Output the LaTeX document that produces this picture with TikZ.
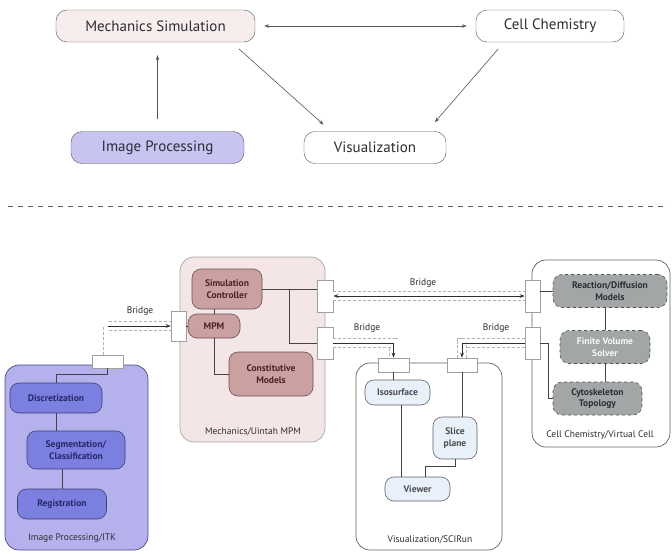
\documentclass[tikz,border=0pt]{standalone}
\usepackage{fontspec}
\setmainfont{PT Sans}
\usetikzlibrary{arrows.meta,positioning,calc}
\definecolor{ink}{RGB}{45,45,50}
\definecolor{rosy}{RGB}{247,237,237}
\definecolor{lilac}{RGB}{199,196,241}
\definecolor{itkbg}{RGB}{181,177,237}
\definecolor{itkblue}{RGB}{122,127,224}
\definecolor{itkink}{RGB}{40,40,105}
\definecolor{mechbg}{RGB}{244,230,230}
\definecolor{mauve}{RGB}{203,160,160}
\definecolor{mechink}{RGB}{75,35,35}
\definecolor{ice}{RGB}{232,240,249}
\definecolor{slate}{RGB}{163,166,166}
\tikzset{
  >={Stealth[length=5pt,width=3.6pt]},
  pill/.style={draw=ink!80,fill=#1,rounded corners=11pt,minimum height=32pt,
    inner sep=0pt,font=\fontsize{15}{17}\selectfont,text=ink},
  pill/.default=white,
  link/.style={draw=ink!80,line width=0.6pt},
  panel/.style={draw=#1,rounded corners=14pt,line width=0.7pt,inner sep=0pt},
  panel/.default=ink!75,
  unit/.style={draw=#1!50!black,fill=#1,rounded corners=9pt,align=center,
    inner sep=1pt,line width=0.6pt,font=\bfseries\fontsize{9.5}{11.5}\selectfont},
  unit/.default=ice,
  port/.style={draw=gray!75,fill=white,inner sep=0pt,line width=0.6pt},
  wire/.style={draw=ink!90,line width=0.7pt},
  pipe/.style={draw=gray!60,dash pattern=on 3pt off 2pt,double=white,
    double distance=8pt,line width=0.7pt},
  bridge/.style={draw=ink,line width=0.7pt},
  tag/.style={font=\fontsize{9.5}{11}\selectfont,text=ink},
}
\begin{document}
\begin{tikzpicture}[x=1pt,y=-1pt]
  \fill[white] (0,0) rectangle (672,554);
  \useasboundingbox (0,0) rectangle (672,554);
  % overview
  \node[pill=rosy,minimum width=199pt] (mechsim) at (155.5,26) {Mechanics Simulation};
  \node[pill,minimum width=148pt] (cellchem) at (550,26) {Cell Chemistry};
  \node[pill=lilac,minimum width=173pt] (imgproc) at (157.5,147.5) {Image Processing};
  \node[pill,minimum width=142pt] (vis) at (375,147.5) {Visualization};
  \draw[link,<->,shorten <=9pt,shorten >=9pt] (mechsim) -- (cellchem);
  \draw[link,->,shorten <=12pt,shorten >=13pt] (imgproc.north) -- (imgproc.north |- mechsim.south);
  \draw[link,->,shorten <=10pt,shorten >=10pt] ([xshift=76pt]mechsim.south) -- ([xshift=-44pt]vis.north);
  \draw[link,->,shorten <=9pt,shorten >=12pt] ([xshift=-46pt]cellchem.south) -- ([xshift=52pt]vis.north);
  \draw[ink!75,line width=0.7pt,dash pattern=on 5pt off 5pt] (8,206) -- (668,206);

  % frameworks
  \node[panel=itkblue!60!black,fill=itkbg,minimum width=143pt,minimum height=185pt] (itk) at (76.5,457.5) {};
  \node[panel=gray!70,fill=mechbg,minimum width=145pt,minimum height=185pt] (uintah) at (252.5,349.5) {};
  \node[panel,fill=white,minimum width=138pt,minimum height=187pt] (vcell) at (601,353.5) {};
  \node[panel,fill=white,minimum width=146pt,minimum height=187pt] (scirun) at (429,456.5) {};
  \node[tag] (itklabel) at (72,538) {Image Processing/ITK};
  \node[tag] (uintahlabel) at (253,432) {Mechanics/Uintah MPM};
  \node[tag] (vcelllabel) at (600,435) {Cell Chemistry/Virtual Cell};
  \node[tag] (scirunlabel) at (430,540) {Visualization/SCIRun};

  % ports
  \node[port,minimum width=31pt,minimum height=13pt] (itkport) at (107.5,361.5) {};
  \node[port,minimum width=15pt,minimum height=30pt] (mechin) at (178.5,326) {};
  \node[port,minimum width=16pt,minimum height=32pt] (mechout1) at (325,296) {};
  \node[port,minimum width=16pt,minimum height=32pt] (mechout2) at (325,343) {};
  \node[port,minimum width=15pt,minimum height=32pt] (cellin1) at (532.5,296) {};
  \node[port,minimum width=15pt,minimum height=32pt] (cellin2) at (532.5,343) {};
  \node[port,minimum width=31pt,minimum height=14pt] (visin1) at (393.5,365) {};
  \node[port,minimum width=30pt,minimum height=14pt] (visin2) at (462,365) {};

  % image processing
  \node[unit=itkblue,text=itkink,minimum width=92pt,minimum height=30pt] (disc) at (56,398) {Discretization};
  \node[unit=itkblue,text=itkink,minimum width=98pt,minimum height=38pt] (seg) at (76,450) {Segmentation/\\Classification};
  \node[unit=itkblue,text=itkink,minimum width=89pt,minimum height=30pt] (reg) at (62,504) {Registration};
  \draw[wire] (itkport.south) -- ++(0,6) -| (disc.north);
  \draw[wire] (disc.south) -- (disc.south |- seg.north);
  \draw[wire] (reg.north) -- (reg.north |- seg.south);

  % mechanics
  \node[unit=mauve,text=mechink,minimum width=70pt,minimum height=40pt] (ctrl) at (227,289) {Simulation\\Controller};
  \node[unit=mauve,text=mechink,minimum width=52pt,minimum height=24pt] (mpm) at (214,326) {MPM};
  \node[unit=mauve,text=mechink,minimum width=84pt,minimum height=44pt] (const) at (271,374) {Constitutive\\Models};
  \draw[wire] (mpm.north) -- (mpm.north |- ctrl.south);
  \draw[wire] (mechin.east) -- (mechin.east -| mpm.west);
  \draw[wire] (mpm.south) |- (const.west);
  \draw[wire] (ctrl.east) -- (ctrl.east -| mechout1.west);
  \draw[wire] ($(ctrl.east)!0.5!(ctrl.east -| mechout1.west)$) |- (mechout2.west);

  % cell chemistry
  \node[unit=slate,dashed,text=ink,minimum width=114pt,minimum height=33pt] (rd) at (610,291) {Reaction/Diffusion\\Models};
  \node[unit=slate,dashed,text=white!92!slate,minimum width=90pt,minimum height=33pt] (fv) at (605,347) {Finite Volume\\Solver};
  \node[unit=slate,dashed,text=ink,minimum width=89pt,minimum height=33pt] (cyto) at (597.5,398.5) {Cytoskeleton\\Topology};
  \draw[wire] (rd.west) -- (rd.west -| cellin1.east);
  \draw[wire] (fv.north) -- (fv.north |- rd.south);
  \draw[wire] (fv.south) -- (fv.south |- cyto.north);
  \draw[wire] (cellin2.east) -- ++(8,0) |- (cyto.west);

  % visualization
  \node[unit,draw=ink!75,text=ink!85,minimum width=65pt,minimum height=25pt] (iso) at (397.5,392.5) {Isosurface};
  \node[unit,draw=ink!75,text=ink!85,minimum width=44pt,minimum height=42pt] (slice) at (455,438) {Slice\\plane};
  \node[unit,draw=ink!75,text=ink!85,minimum width=65pt,minimum height=24pt] (viewer) at (417.5,489) {Viewer};
  \draw[wire] (visin1.south) -- (visin1.south |- iso.north);
  \draw[wire] ([xshift=4pt]iso.south) -- ([xshift=4pt]iso.south |- viewer.north);
  \draw[wire] (visin2.south) -- (visin2.south |- slice.north);
  \draw[wire] (slice.south) -- ++(0,7) -| ([xshift=8pt]viewer.north);

  % bridges
  \draw[pipe] (itkport.north) |- (mechin.west);
  \draw[bridge,->] (itkport.north |- mechin.west) -- (mechin.west);
  \draw[pipe] (mechout1.east) -- (cellin1.west);
  \draw[bridge,<->] (mechout1.east) -- (cellin1.west);
  \draw[pipe] (mechout2.east) -| (visin1.north);
  \draw[bridge,->] (mechout2.east) -| (visin1.north);
  \draw[pipe] (cellin2.west) -| (visin2.north);
  \draw[bridge,->] (cellin2.west) -| (visin2.north);
  \foreach \x/\y [count=\i] in {140/311,423/283,367/328,496/328}
    \node[tag] (bridge\i) at (\x,\y) {Bridge};
\end{tikzpicture}
\end{document}
